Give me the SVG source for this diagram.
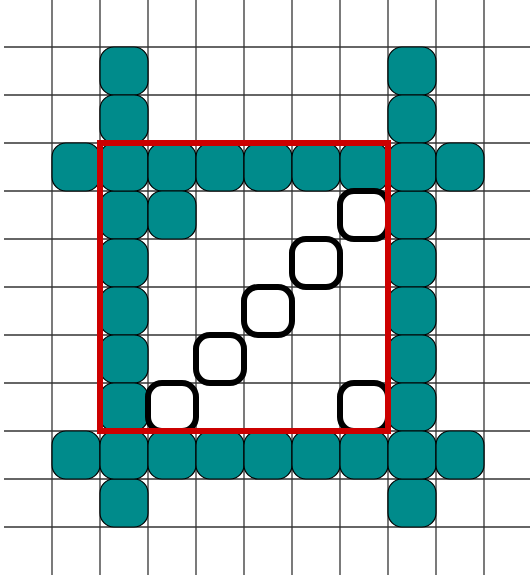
<svg xmlns="http://www.w3.org/2000/svg" width="530" height="577" viewBox="0 0 530 577">
<style>
.grid line{stroke:#333;stroke-width:1.3}
.t{fill:#008b8b;stroke:#000;stroke-width:1.2}
.o{fill:#fff;stroke:#000;stroke-width:6}
.r{fill:none;stroke:#cc0000;stroke-width:6}
</style>
<rect width="530" height="577" fill="#fff"/>
<g class="grid" id="grid">
<line x1="52" y1="0" x2="52" y2="575"/>
<line x1="100" y1="0" x2="100" y2="575"/>
<line x1="148" y1="0" x2="148" y2="575"/>
<line x1="196" y1="0" x2="196" y2="575"/>
<line x1="244" y1="0" x2="244" y2="575"/>
<line x1="292" y1="0" x2="292" y2="575"/>
<line x1="340" y1="0" x2="340" y2="575"/>
<line x1="388" y1="0" x2="388" y2="575"/>
<line x1="436" y1="0" x2="436" y2="575"/>
<line x1="484" y1="0" x2="484" y2="575"/>
<line x1="4" y1="47" x2="530" y2="47"/>
<line x1="4" y1="95" x2="530" y2="95"/>
<line x1="4" y1="143" x2="530" y2="143"/>
<line x1="4" y1="191" x2="530" y2="191"/>
<line x1="4" y1="239" x2="530" y2="239"/>
<line x1="4" y1="287" x2="530" y2="287"/>
<line x1="4" y1="335" x2="530" y2="335"/>
<line x1="4" y1="383" x2="530" y2="383"/>
<line x1="4" y1="431" x2="530" y2="431"/>
<line x1="4" y1="479" x2="530" y2="479"/>
<line x1="4" y1="527" x2="530" y2="527"/>
</g>
<g id="tiles">
<g id="tL1"><rect class="t" x="100" y="47" width="48" height="48" rx="14"/></g>
<g id="tL2"><rect class="t" x="100" y="95" width="48" height="48" rx="14"/></g>
<g id="tL4"><rect class="t" x="100" y="191" width="48" height="48" rx="14"/></g>
<g id="tL5"><rect class="t" x="100" y="239" width="48" height="48" rx="14"/></g>
<g id="tL6"><rect class="t" x="100" y="287" width="48" height="48" rx="14"/></g>
<g id="tL7"><rect class="t" x="100" y="335" width="48" height="48" rx="14"/></g>
<g id="tL8"><rect class="t" x="100" y="383" width="48" height="48" rx="14"/></g>
<g id="tL10"><rect class="t" x="100" y="479" width="48" height="48" rx="14"/></g>
<g id="tR1"><rect class="t" x="388" y="47" width="48" height="48" rx="14"/></g>
<g id="tR2"><rect class="t" x="388" y="95" width="48" height="48" rx="14"/></g>
<g id="tR4"><rect class="t" x="388" y="191" width="48" height="48" rx="14"/></g>
<g id="tR5"><rect class="t" x="388" y="239" width="48" height="48" rx="14"/></g>
<g id="tR6"><rect class="t" x="388" y="287" width="48" height="48" rx="14"/></g>
<g id="tR7"><rect class="t" x="388" y="335" width="48" height="48" rx="14"/></g>
<g id="tR8"><rect class="t" x="388" y="383" width="48" height="48" rx="14"/></g>
<g id="tR10"><rect class="t" x="388" y="479" width="48" height="48" rx="14"/></g>
<g id="tT0"><rect class="t" x="52" y="143" width="48" height="48" rx="14"/></g>
<g id="tT1"><rect class="t" x="100" y="143" width="48" height="48" rx="14"/></g>
<g id="tT2"><rect class="t" x="148" y="143" width="48" height="48" rx="14"/></g>
<g id="tT3"><rect class="t" x="196" y="143" width="48" height="48" rx="14"/></g>
<g id="tT4"><rect class="t" x="244" y="143" width="48" height="48" rx="14"/></g>
<g id="tT5"><rect class="t" x="292" y="143" width="48" height="48" rx="14"/></g>
<g id="tT6"><rect class="t" x="340" y="143" width="48" height="48" rx="14"/></g>
<g id="tT7"><rect class="t" x="388" y="143" width="48" height="48" rx="14"/></g>
<g id="tT8"><rect class="t" x="436" y="143" width="48" height="48" rx="14"/></g>
<g id="tB0"><rect class="t" x="52" y="431" width="48" height="48" rx="14"/></g>
<g id="tB1"><rect class="t" x="100" y="431" width="48" height="48" rx="14"/></g>
<g id="tB2"><rect class="t" x="148" y="431" width="48" height="48" rx="14"/></g>
<g id="tB3"><rect class="t" x="196" y="431" width="48" height="48" rx="14"/></g>
<g id="tB4"><rect class="t" x="244" y="431" width="48" height="48" rx="14"/></g>
<g id="tB5"><rect class="t" x="292" y="431" width="48" height="48" rx="14"/></g>
<g id="tB6"><rect class="t" x="340" y="431" width="48" height="48" rx="14"/></g>
<g id="tB7"><rect class="t" x="388" y="431" width="48" height="48" rx="14"/></g>
<g id="tB8"><rect class="t" x="436" y="431" width="48" height="48" rx="14"/></g>
<g id="tX"><rect class="t" x="148" y="191" width="48" height="48" rx="14"/></g>
</g>
<g id="outlines">
<g id="o1"><rect class="o" x="340" y="191" width="48" height="48" rx="14"/></g>
<g id="o2"><rect class="o" x="292" y="239" width="48" height="48" rx="14"/></g>
<g id="o3"><rect class="o" x="244" y="287" width="48" height="48" rx="14"/></g>
<g id="o4"><rect class="o" x="196" y="335" width="48" height="48" rx="14"/></g>
<g id="o5"><rect class="o" x="148" y="383" width="48" height="48" rx="14"/></g>
<g id="o6"><rect class="o" x="340" y="383" width="48" height="48" rx="14"/></g>
</g>
<g id="frame"><rect class="r" x="100" y="143" width="288" height="288"/></g>
</svg>
